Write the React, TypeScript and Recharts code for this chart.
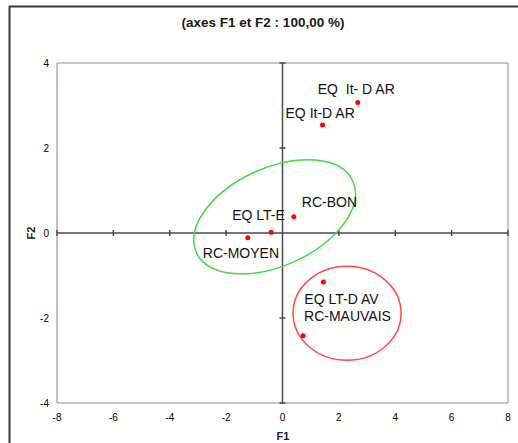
import { ScatterChart, Scatter, XAxis, YAxis, ReferenceLine, ReferenceArea, ReferenceDot } from 'recharts';

const names = ['EQ  It- D AR', 'EQ It-D AR', 'RC-BON', 'EQ LT-E', 'RC-MOYEN', 'EQ LT-D AV', 'RC-MAUVAIS'];
const f1Values = [2.67, 1.42, 0.4, -0.4, -1.23, 1.45, 0.73];
const f2Values = [3.07, 2.54, 0.38, 0.02, -0.11, -1.15, -2.42];

const xTicks = [-8, -6, -4, -2, 0, 2, 4, 6, 8];
const yTicks = [-4, -2, 0, 2, 4];

// group circles drawn by hand on the original
const groupCenters = [
  { x: -0.28, y: 0.38 },
  { x: 2.29, y: -1.89 },
];

const points = names.map((name, i) => ({ name, x: f1Values[i], y: f2Values[i] }));

// label placement relative to the dot: [left edge dx, centre dy]
const labelOffsets: Record<string, [number, number]> = {
  'EQ  It- D AR': [-40, -14],
  'EQ It-D AR': [-37, -12],
  'RC-BON': [8, -15],
  'EQ LT-E': [-39, -17],
  'RC-MOYEN': [-45, 15],
  'EQ LT-D AV': [-19, 17],
  'RC-MAUVAIS': [1, -20],
};

const ellipseStyles = [
  { rx: 86, ry: 49, rotate: -24.5, stroke: '#3ddc3d' },
  { rx: 54, ry: 47, rotate: 0, stroke: '#ff4a4a' },
];

const font = 'Arial, "Liberation Sans", sans-serif';

const renderPoint = (props: any) => {
  const { cx, cy, payload } = props;
  const off = labelOffsets[payload.name] || [4, -10];
  return (
    <g>
      <circle cx={cx} cy={cy} r={2.5} fill="#ff0000" />
      <text
        x={cx + off[0]}
        y={cy + off[1]}
        dominantBaseline="central"
        fontSize={14}
        fill="#111"
        fontFamily={font}
        style={{ whiteSpace: 'pre' }}
      >
        {payload.name}
      </text>
    </g>
  );
};

export default function App() {
  return (
    <div
      style={{
        position: 'absolute',
        top: 0,
        left: 0,
        width: 518,
        height: 443,
        overflow: 'hidden',
        fontFamily: font,
        background: '#fff',
      }}
    >
      <ScatterChart
        width={518}
        height={443}
        margin={{ top: 63, right: 10, bottom: 10, left: 0 }}
        style={{ position: 'absolute', top: 0, left: 0 }}
      >
        <XAxis
          type="number"
          dataKey="x"
          domain={[-8, 8]}
          ticks={xTicks}
          interval={0}
          height={30}
          axisLine={false}
          tickLine={false}
          tickMargin={5}
          tick={{ fontSize: 10, fill: '#000', fontFamily: font }}
        />
        <YAxis
          type="number"
          dataKey="y"
          domain={[-4, 4]}
          ticks={yTicks}
          interval={0}
          width={57}
          axisLine={false}
          tickLine={false}
          tick={{ fontSize: 10, fill: '#000', fontFamily: font }}
        />
        <ReferenceArea x1={-8} x2={8} y1={-4} y2={4} fill="none" fillOpacity={0} stroke="#8c8c8c" strokeWidth={1} />
        <ReferenceLine x={0} stroke="#4a4a4a" strokeWidth={1.5} />
        <ReferenceLine y={0} stroke="#4a4a4a" strokeWidth={1.5} />
        {xTicks.filter((t) => t !== 0).map((t) => (
          <ReferenceDot
            key={'xt' + t}
            x={t}
            y={0}
            r={0}
            shape={(p: any) => <line x1={p.cx} x2={p.cx} y1={p.cy - 3} y2={p.cy + 3} stroke="#4a4a4a" strokeWidth={1.5} />}
          />
        ))}
        {yTicks.filter((t) => t !== 0).map((t) => (
          <ReferenceDot
            key={'yt' + t}
            x={0}
            y={t}
            r={0}
            shape={(p: any) => <line x1={p.cx - 3} x2={p.cx + 3} y1={p.cy} y2={p.cy} stroke="#4a4a4a" strokeWidth={1.5} />}
          />
        ))}
        {groupCenters.map((c, i) => (
          <ReferenceDot
            key={'g' + i}
            x={c.x}
            y={c.y}
            r={0}
            shape={(p: any) => (
              <ellipse
                cx={p.cx}
                cy={p.cy}
                rx={ellipseStyles[i].rx}
                ry={ellipseStyles[i].ry}
                transform={`rotate(${ellipseStyles[i].rotate} ${p.cx} ${p.cy})`}
                fill="none"
                stroke={ellipseStyles[i].stroke}
                strokeWidth={1.5}
              />
            )}
          />
        ))}
        <Scatter data={points} shape={renderPoint} isAnimationActive={false} />
      </ScatterChart>
      <svg width={518} height={443} style={{ position: 'absolute', top: 0, left: 0, pointerEvents: 'none' }}>
        <line x1={9.5} y1={6} x2={9.5} y2={443} stroke="#3a3a3a" strokeWidth={2} />
        <line x1={9} y1={6.5} x2={518} y2={6.5} stroke="#3a3a3a" strokeWidth={2} />
        <text x={263} y={22} textAnchor="middle" dominantBaseline="central" fontSize={13.5} fontWeight="bold" fill="#1a1a1a" fontFamily={font}>
          (axes F1 et F2 : 100,00 %)
        </text>
        <text x={283} y={436} textAnchor="middle" dominantBaseline="central" fontSize={11} fontWeight="bold" fill="#1a1a1a" fontFamily={font}>
          F1
        </text>
        <text
          x={31}
          y={233}
          textAnchor="middle"
          dominantBaseline="central"
          fontSize={11}
          fontWeight="bold"
          fill="#1a1a1a"
          fontFamily={font}
          transform="rotate(-90 31 233)"
        >
          F2
        </text>
      </svg>
    </div>
  );
}
